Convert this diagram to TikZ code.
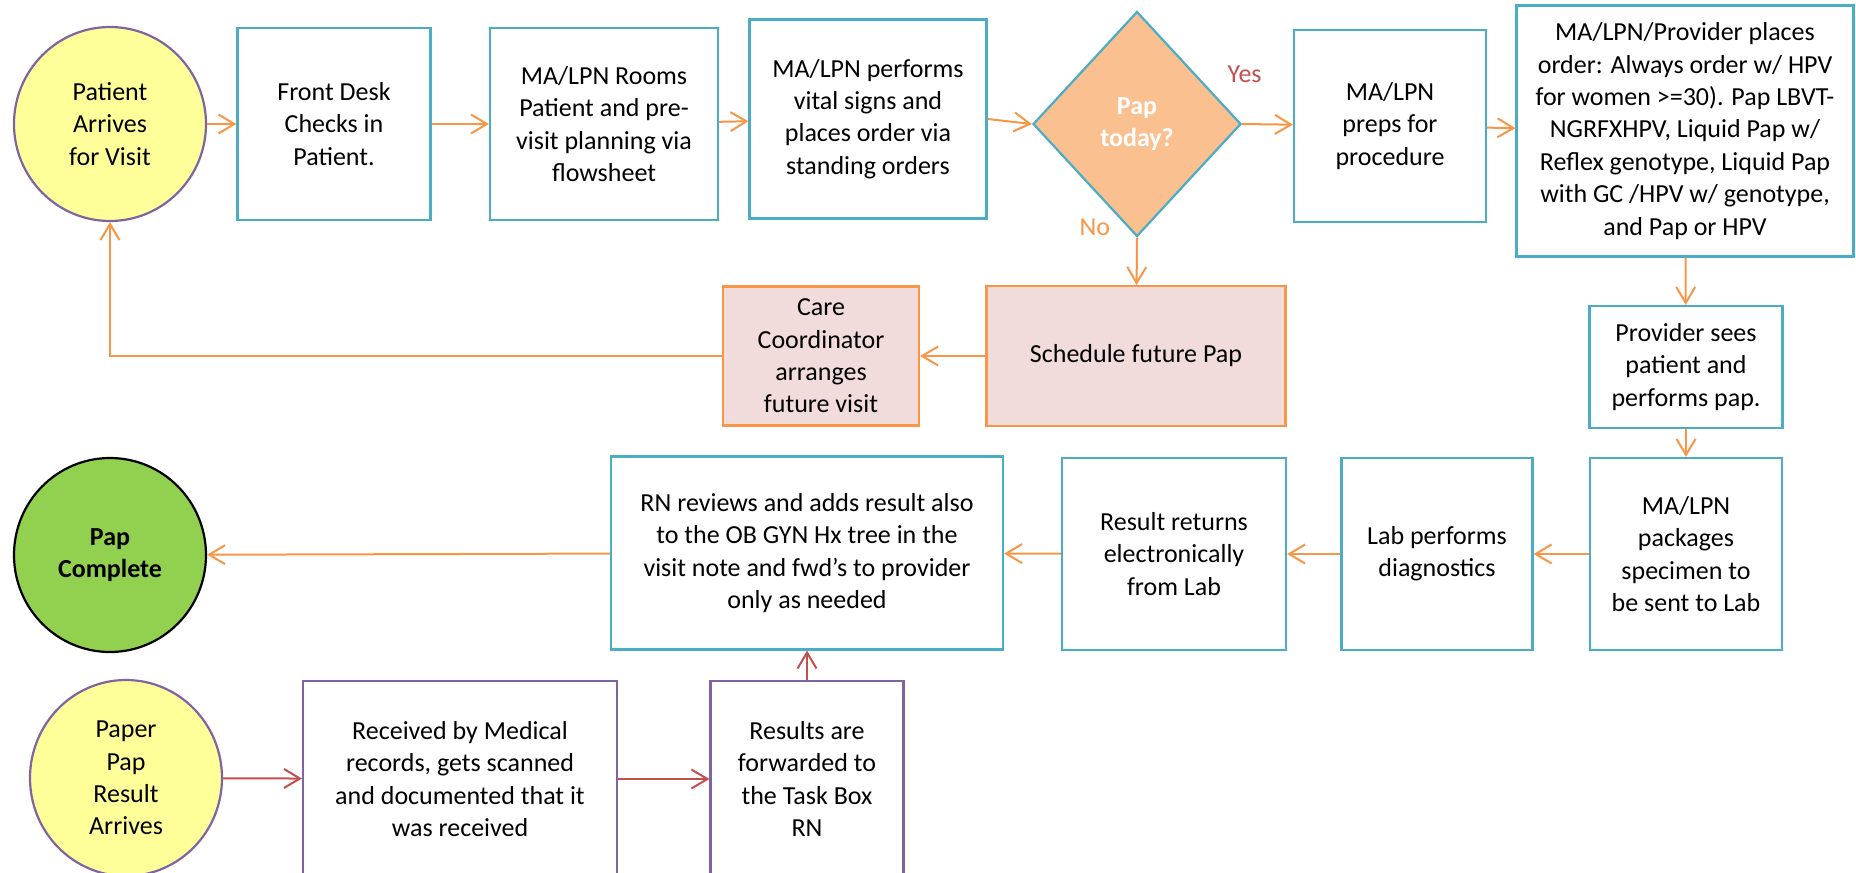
\documentclass[tikz,border=0pt]{standalone}
\usepackage{fontspec}
\setmainfont{Carlito}
\usetikzlibrary{arrows.meta,positioning,shapes.geometric}
\definecolor{Aqua}{HTML}{4BACC6}
\definecolor{Tang}{HTML}{F79646}
\definecolor{Blush}{HTML}{F2DCDB}
\definecolor{Peach}{HTML}{FAC090}
\definecolor{Lemon}{HTML}{FFFF99}
\definecolor{Plum}{HTML}{8064A2}
\definecolor{Lime}{HTML}{92D050}
\definecolor{Brick}{HTML}{C0504D}
\tikzset{
  every node/.append style={font=\fontsize{13}{16.2}\selectfont},
  box/.style={draw=Aqua, line width=1.1pt, fill=white, align=center,
              inner sep=2pt, minimum width=96pt, minimum height=96pt},
  pinkbox/.style={box, draw=Tang, fill=Blush},
  paperbox/.style={box, draw=Plum},
  oval/.style={ellipse, draw=Plum, line width=1.1pt, fill=Lemon, align=center,
               inner sep=0pt, minimum width=96pt, minimum height=97pt},
  doneoval/.style={oval, draw=black, fill=Lime, font=\fontsize{13}{16.2}\selectfont\bfseries},
  decide/.style={diamond, draw=Aqua, line width=1.1pt, fill=Peach, align=center,
                 inner sep=0pt, minimum width=104pt, minimum height=112.5pt,
                 text=white, font=\fontsize{13}{16.2}\selectfont\bfseries},
  arrow/.style={-{Straight Barb[length=8pt,width=9.5pt]}, line width=1pt, draw=Tang},
  redarrow/.style={arrow, draw=Brick},
  tag/.style={inner sep=1pt},
}

\begin{document}
\begin{tikzpicture}[x=0.5pt, y=-0.5pt]
  \useasboundingbox (0,0) rectangle (1856,872);
  \clip (0,0) rectangle (1856,872);
  % first row
  \node[oval] (arrive) at (110,124) {Patient\\Arrives\\for Visit};
  \node[box, minimum width=96.5pt] (front) at (334,124) {Front Desk\\Checks in\\Patient.};
  \node[box, minimum width=114pt] (rooms) at (604,124) {MA/LPN Rooms\\Patient and pre-\\visit planning via\\flowsheet};
  \node[box, minimum width=118.5pt, minimum height=99.5pt] (vitals) at (868,119) {MA/LPN performs\\vital signs and\\places order via\\standing orders};
  \node[decide] (pap) at (1137,124) {Pap\\today?};
  \node[box] (preps) at (1390,126) {MA/LPN\\preps for\\procedure};
  \node[box, minimum width=168.5pt, minimum height=125.5pt] (order) at (1685,131) {MA/LPN/Provider places\\order: Always order w/ HPV\\for women >=30). Pap LBVT-\\NGRFXHPV, Liquid Pap w/\\Reflex genotype, Liquid Pap\\with GC /HPV w/ genotype,\\and Pap or HPV};
  % second row
  \node[box, minimum width=96.5pt, minimum height=61pt] (sees) at (1686,367) {Provider sees\\patient and\\performs pap.};
  \node[pinkbox, minimum width=149.5pt, minimum height=70pt] (later) at (1136,356) {Schedule future Pap};
  \node[pinkbox, minimum width=98pt, minimum height=69.5pt] (care) at (821,356) {Care\\Coordinator\\arranges\\future visit};
  % third row
  \node[box] (pack) at (1686,554) {MA/LPN\\packages\\specimen to\\be sent to Lab};
  \node[box, minimum width=95.5pt] (lab) at (1437,554) {Lab performs\\diagnostics};
  \node[box, minimum width=112pt] (returns) at (1174,554) {Result returns\\electronically\\from Lab};
  \node[box, minimum width=196pt, minimum height=96.5pt] (review) at (807,553) {RN reviews and adds result also\\to the OB GYN Hx tree in the\\visit note and fwd’s to provider\\only as needed};
  \node[doneoval] (done) at (110,555) {Pap\\Complete};
  % paper results
  \node[oval, minimum height=98pt] (paper) at (126,778) {Paper\\Pap\\Result\\Arrives};
  \node[paperbox, minimum width=157pt, minimum height=98pt] (received) at (460,779) {Received by Medical\\records, gets scanned\\and documented that it\\was received};
  \node[paperbox, minimum width=96.5pt, minimum height=98pt] (fwd) at (807,779) {Results are\\forwarded to\\the Task Box\\RN};

  \draw[arrow] (arrive) -- (front);
  \draw[arrow] (front) -- (rooms);
  \draw[arrow] (rooms) -- (vitals);
  \draw[arrow] (vitals.east) -- (pap.west);
  \draw[arrow] (pap.east) -- (preps)
    node[tag, text=Brick, pos=0.05, above=19pt] {Yes};
  \draw[arrow] (preps) -- (order);
  \draw[arrow] (order) -- (sees);
  \draw[arrow] (sees) -- (pack);
  \draw[arrow] (pack) -- (lab);
  \draw[arrow] (lab) -- (returns);
  \draw[arrow] (returns) -- (review);
  \draw[arrow] (review) -- (done);
  \draw[arrow] (pap.south) -- (later)
    node[tag, text=Tang, pos=0, left=12pt, yshift=5pt] {No};
  \draw[arrow] (later) -- (care);
  \draw[arrow] (care.west) -| (arrive.south);
  \draw[redarrow] (paper) -- (received);
  \draw[redarrow] (received) -- (fwd);
  \draw[redarrow] (fwd) -- (review);
\end{tikzpicture}
\end{document}
